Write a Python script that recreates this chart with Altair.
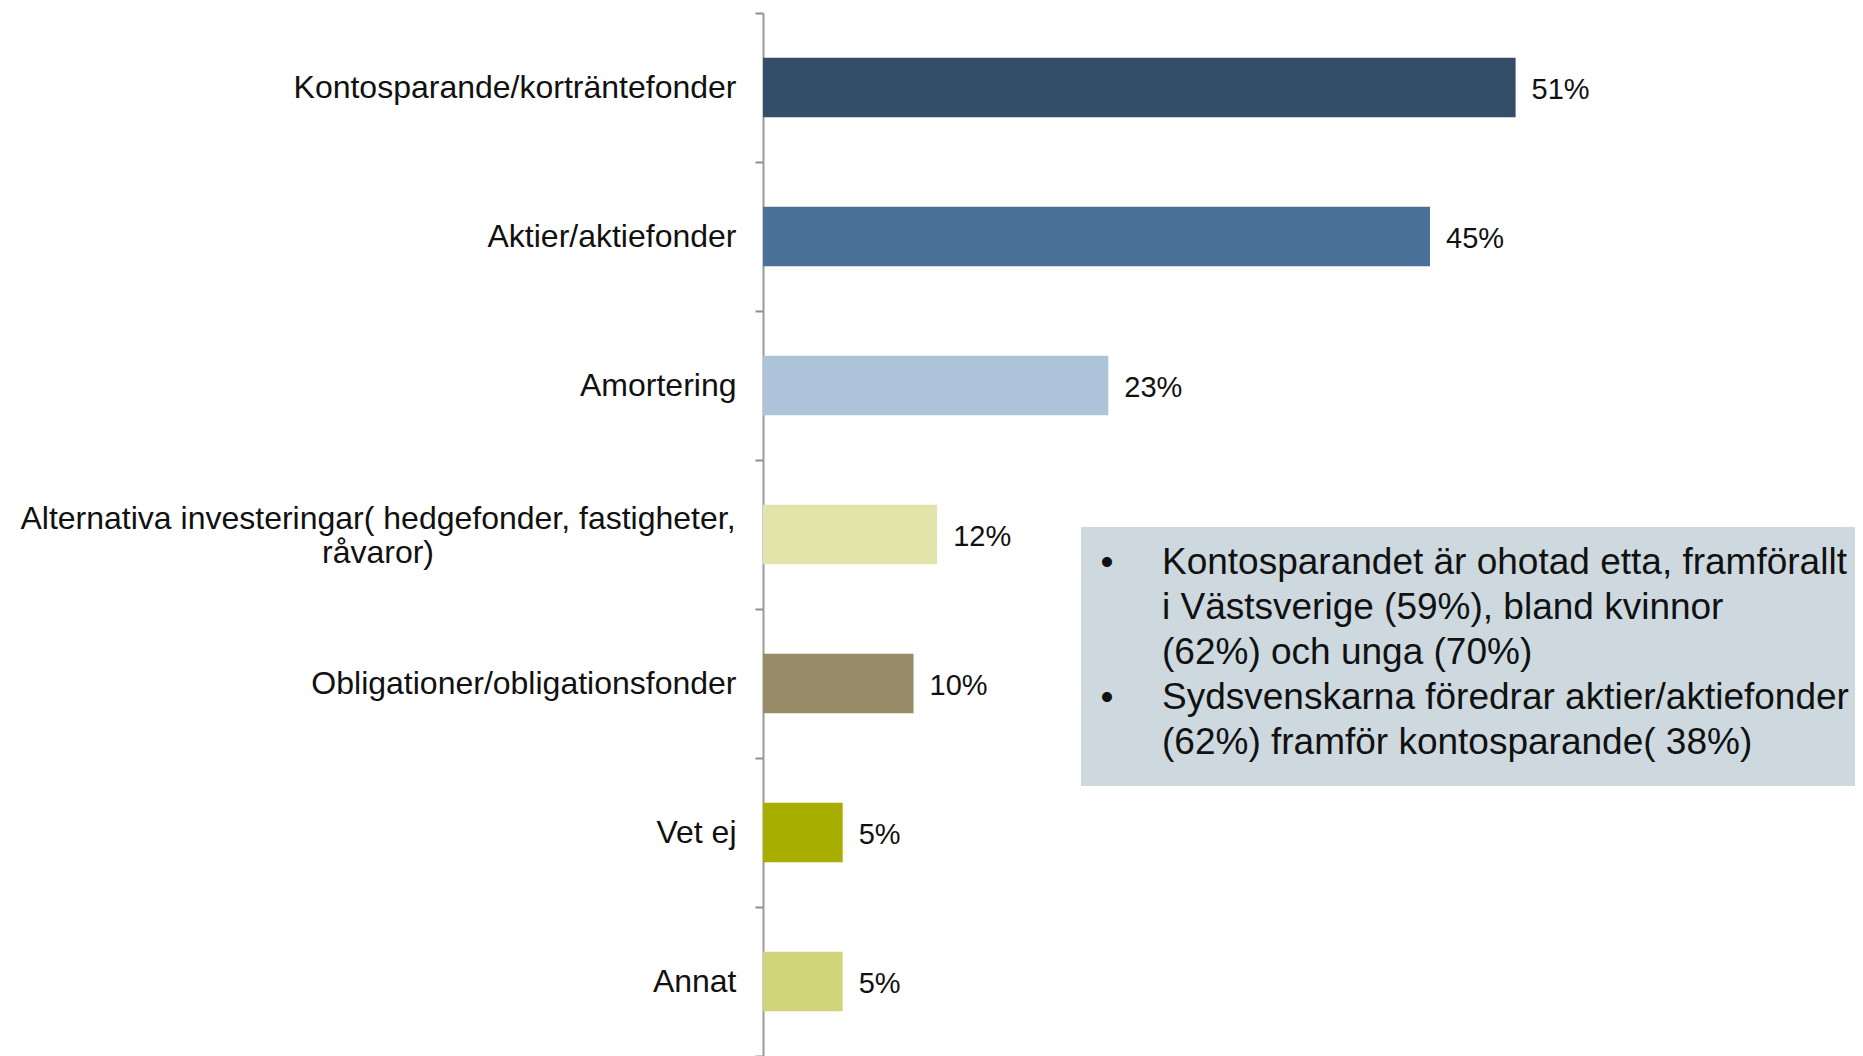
import altair as alt
import pandas as pd

categories = [
    "Kontosparande/korträntefonder",
    "Aktier/aktiefonder",
    "Amortering",
    "Alternativa investeringar( hedgefonder, fastigheter, råvaror)",
    "Obligationer/obligationsfonder",
    "Vet ej",
    "Annat",
]
values = [51, 45.2, 23.4, 11.8, 10.2, 5.4, 5.4]
value_labels = ["51%", "45%", "23%", "12%", "10%", "5%", "5%"]
colors = ["#344d68", "#4b7199", "#adc3da", "#e3e4a9", "#968c68", "#a8ae00", "#d2d47a"]

box_bullets = [
    "Kontosparandet är ohotad etta, framförallt\ni Västsverige (59%), bland kvinnor\n(62%) och unga (70%)",
    "Sydsvenskarna föredrar aktier/aktiefonder\n(62%) framför kontosparande( 38%)",
]

MULTI = categories[3]
FONT = "Liberation Sans"

df = pd.DataFrame({"cat": categories, "val": values, "color": colors, "label": value_labels})

y_enc = alt.Y(
    "cat:N",
    sort=categories,
    scale=alt.Scale(paddingInner=0, paddingOuter=0),
    axis=alt.Axis(
        title=None,
        tickBand="extent",
        tickSize=8,
        tickColor="#8c8c8c",
        tickWidth=2,
        domainColor="#9a9a9a",
        domainWidth=2,
        labelFont=FONT,
        labelFontSize=32,
        labelColor="#111111",
        labelPadding=19,
        labelLimit=1000,
        labelExpr=f"datum.value == '{MULTI}' ? '' : datum.value",
        grid=False,
    ),
)
x_enc = alt.X("val:Q", scale=alt.Scale(domain=[0, 74]), axis=None)

base = alt.Chart(df)

bars = base.mark_bar(height=alt.RelativeBandSize(0.4)).encode(
    x=x_enc,
    y=y_enc,
    color=alt.Color("color:N", scale=None),
)

vals = base.mark_text(
    align="left", baseline="middle", dx=16, dy=2, font=FONT, fontSize=29, color="#111111"
).encode(x=x_enc, y=alt.Y("cat:N", sort=categories), text="label:N")

multi_label = alt.Chart(df[df["cat"] == MULTI]).transform_calculate(
    txt="'Alternativa investeringar( hedgefonder, fastigheter,\\nråvaror)'"
).mark_text(
    align="center", baseline="middle", font=FONT, fontSize=32, color="#111111",
    lineBreak="\n", lineHeight=34, dy=-16,
).encode(
    x=alt.value(-385),
    y=alt.Y("cat:N", sort=categories),
    text="txt:N",
)

box_df = pd.DataFrame({"a": [0]})
box = alt.Chart(box_df).mark_rect(color="#cdd8df").encode(
    x=alt.value(318), x2=alt.value(1092), y=alt.value(514), y2=alt.value(773)
)

bul_df = pd.DataFrame({"t": box_bullets, "row": [0, 3]})
bul_df["ypix"] = 561 + bul_df["row"] * 45

bullet_dots = alt.Chart(bul_df).mark_text(
    text="•", align="center", baseline="alphabetic", font=FONT, fontSize=37, color="#111111"
).encode(x=alt.value(344), y=alt.Y("ypix:Q", scale=None))

bullet_text = alt.Chart(bul_df).mark_text(
    align="left", baseline="alphabetic", font=FONT, fontSize=37, color="#111111",
    lineBreak="\n", lineHeight=45,
).encode(x=alt.value(399), y=alt.Y("ypix:Q", scale=None), text="t:N")

chart = alt.layer(bars, vals, multi_label, box, bullet_dots, bullet_text).properties(
    width=1092,
    height=1043,
    autosize="none",
    padding={"left": 755, "top": 5, "right": 0, "bottom": 0},
).configure_view(stroke=None)

chart.save("out.html", embed_options={"renderer": "svg", "actions": False})
